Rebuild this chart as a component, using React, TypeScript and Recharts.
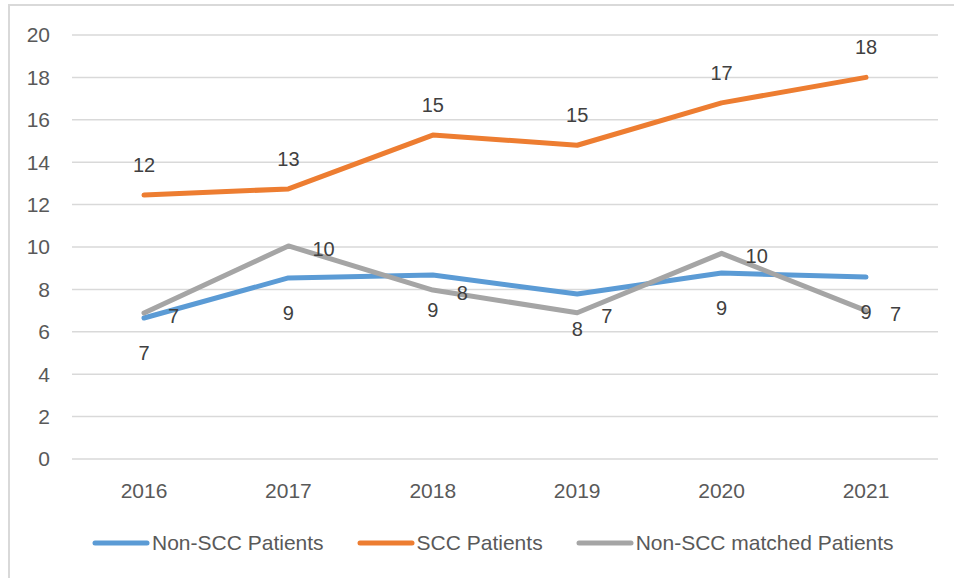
import React from "react";
import { LineChart, Line, XAxis, YAxis, CartesianGrid, Legend, LabelList } from "recharts";

const years = ["2016", "2017", "2018", "2019", "2020", "2021"];
const nonScc = [6.65, 8.54, 8.68, 7.78, 8.77, 8.58];
const scc = [12.45, 12.74, 15.28, 14.8, 16.8, 18.0];
const nonSccMatched = [6.89, 10.05, 7.97, 6.9, 9.7, 7.0];
const yTicks = [0, 2, 4, 6, 8, 10, 12, 14, 16, 18, 20];

const series = [
  { key: "nonScc", name: "Non-SCC Patients", color: "#5B9BD5" },
  { key: "scc", name: "SCC Patients", color: "#ED7D31" },
  { key: "matched", name: "Non-SCC matched Patients", color: "#A5A5A5" },
];

const data = years.map((year, i) => ({
  year,
  nonScc: nonScc[i],
  scc: scc[i],
  matched: nonSccMatched[i],
}));

const FONT = "'Liberation Sans', Arial, sans-serif";
const round = (v: any) => Math.round(Number(v));
const labelStyle = { fill: "#404040", fontSize: 20, fontFamily: FONT };
const tickStyle = { fill: "#595959", fontSize: 21, fontFamily: FONT };

function LegendContent() {
  return (
    <div style={{ display: "flex", alignItems: "center", paddingLeft: 92, paddingTop: 32, fontFamily: FONT, fontSize: 21, color: "#595959", lineHeight: "24px" }}>
      {series.map((s) => (
        <div key={s.key} style={{ display: "flex", alignItems: "center", marginRight: 33 }}>
          <svg width={58} height={8} style={{ marginRight: 2 }}>
            <line x1={3} y1={4} x2={55} y2={4} stroke={s.color} strokeWidth={5} strokeLinecap="round" />
          </svg>
          <span>{s.name}</span>
        </div>
      ))}
    </div>
  );
}

export default function App() {
  return (
    <div style={{ position: "absolute", left: 0, top: 0, width: 954, height: 578, overflow: "hidden", background: "#fff" }}>
      <div style={{ position: "absolute", left: 8, top: 4, width: 1000, height: 700, border: "2px solid #d9d9d9" }} />
      <LineChart width={954} height={578} data={data} margin={{ top: 35, right: 16, bottom: 0, left: 0 }}>
        <CartesianGrid vertical={false} stroke="#d9d9d9" strokeWidth={1.5} />
        <XAxis
          dataKey="year"
          padding={{ left: 72, right: 72 }}
          tickLine={false}
          axisLine={false}
          tickSize={0}
          tickMargin={24}
          height={40}
          tick={tickStyle}
        />
        <YAxis
          domain={[0, 20]}
          ticks={yTicks}
          tickLine={false}
          axisLine={false}
          tickSize={0}
          tickMargin={22}
          width={72}
          tick={tickStyle}
        />
        <Legend
          verticalAlign="bottom"
          height={79}
          content={<LegendContent />}
          wrapperStyle={{ left: 0, width: 954 }}
        />
        <Line dataKey="nonScc" name="Non-SCC Patients" stroke="#5B9BD5" strokeWidth={5} dot={false} strokeLinejoin="round" strokeLinecap="round" isAnimationActive={false}>
          <LabelList dataKey="nonScc" position="bottom" offset={28} formatter={round} style={labelStyle} />
        </Line>
        <Line dataKey="scc" name="SCC Patients" stroke="#ED7D31" strokeWidth={5} dot={false} strokeLinejoin="round" strokeLinecap="round" isAnimationActive={false}>
          <LabelList dataKey="scc" position="top" offset={23} formatter={round} style={labelStyle} />
        </Line>
        <Line dataKey="matched" name="Non-SCC matched Patients" stroke="#A5A5A5" strokeWidth={5} dot={false} strokeLinejoin="round" strokeLinecap="round" isAnimationActive={false}>
          <LabelList dataKey="matched" position="right" offset={24} dy={3} formatter={round} style={labelStyle} />
        </Line>
      </LineChart>
    </div>
  );
}
